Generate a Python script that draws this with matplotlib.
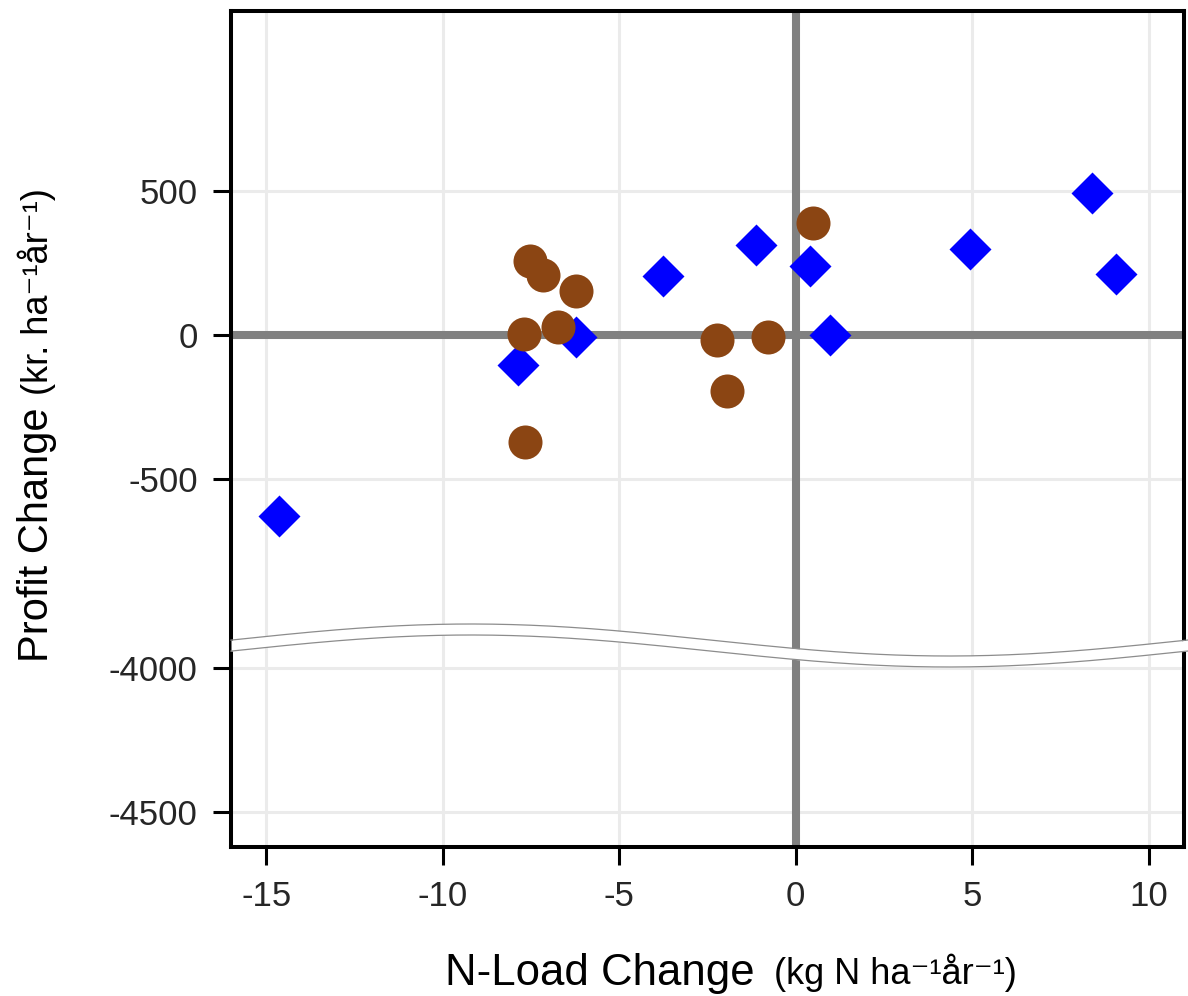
import matplotlib
matplotlib.use("Agg")
import matplotlib.pyplot as plt
import numpy as np

# scenario results
diamond_x = [-14.63, -7.87, -6.23, -3.77, -1.13, 0.41, 0.98, 4.93, 8.39, 9.06]
diamond_y = [-626, -104, -6, 204, 312, 240, 0, 299, 494, 212]
circle_x = [-7.54, -7.16, -6.23, -7.70, -6.74, -7.68, -2.24, -1.94, -0.79, 0.50]
circle_y = [257, 208, 153, 3, 27, -372, -17, -193, -8, 390]

x_ticks = [-15, -10, -5, 0, 5, 10]
y_ticks_top = [-500, 0, 500]
y_ticks_bot = [-4500, -4000]

W_PX, H_PX = 1188, 996
FONT = ["Liberation Sans", "DejaVu Sans"]
plt.rcParams["font.family"] = FONT
plt.rcParams["axes.unicode_minus"] = False

fig = plt.figure(figsize=(W_PX / 100, H_PX / 100), dpi=100)
left, right = 231 / W_PX, 1184 / W_PX
top, split, bottom = 1 - 11 / H_PX, 1 - 645 / H_PX, 1 - 847 / H_PX
ax_top = fig.add_axes([left, split, right - left, top - split])
ax_bot = fig.add_axes([left, bottom, right - left, split - bottom], sharex=ax_top)

for ax in (ax_top, ax_bot):
    ax.grid(True, color="#ebebeb", lw=2.2, zorder=0)
    ax.set_axisbelow(True)
    ax.axvline(0, color="#808080", lw=5.8, zorder=1)
    ax.axhline(0, color="#808080", lw=5.8, zorder=1)
    ax.plot(diamond_x, diamond_y, ls="none", marker="D", ms=21.4,
            color="#0000ff", mec="none", zorder=3)
    ax.plot(circle_x, circle_y, ls="none", marker="o", ms=24.5,
            color="#8b4513", mec="none", zorder=4)
    for s in ax.spines.values():
        s.set_linewidth(2.9)
        s.set_color("black")
    ax.tick_params(direction="out", length=13, width=2.2, color="black",
                   labelsize=25, labelcolor="#262626", pad=11)

ax_top.set_xlim(-16, 11)
ax_top.set_ylim(-1074, 1123)
ax_bot.set_ylim(-4620, -3920)
ax_top.set_yticks(y_ticks_top)
ax_bot.set_yticks(y_ticks_bot)
ax_bot.set_xticks(x_ticks)
ax_top.spines["bottom"].set_visible(False)
ax_bot.spines["top"].set_visible(False)
ax_top.tick_params(axis="x", bottom=False, labelbottom=False)

# wavy break across the axis
ov = fig.add_axes([0, 0, 1, 1], zorder=10)
ov.set_xlim(0, W_PX)
ov.set_ylim(H_PX, 0)
ov.set_axis_off()
xs = np.linspace(231, W_PX, 400)
wave = 640 - 16 * np.sin(2 * np.pi * (xs - 232) / 956)
ov.fill_between(xs, wave, wave + 11, color="white", lw=0)
ov.plot(xs, wave, color="#8c8c8c", lw=0.9)
ov.plot(xs, wave + 11, color="#8c8c8c", lw=0.9)

# axis titles
fig.text(445 / W_PX, 1 - 973 / H_PX, "N-Load Change", fontsize=31.5,
         ha="left", va="center", color="black")
fig.text(774 / W_PX, 1 - 973 / H_PX, "(kg N ha⁻¹år⁻¹)", fontsize=26,
         ha="left", va="center", color="black")
fig.text(37 / W_PX, 1 - 662 / H_PX, "Profit Change", fontsize=30,
         rotation=90, ha="center", va="bottom", color="black")
fig.text(37 / W_PX, 1 - 395 / H_PX, "(kr. ha⁻¹år⁻¹)", fontsize=26,
         rotation=90, ha="center", va="bottom", color="black")

fig.savefig("out.png", dpi=100)
